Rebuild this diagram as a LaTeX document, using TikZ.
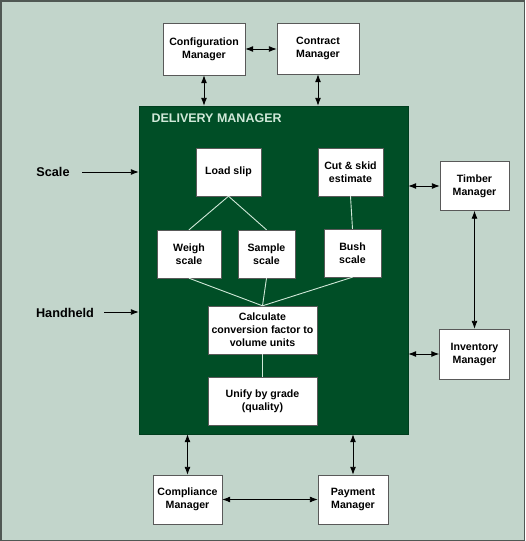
\documentclass[tikz,border=0pt]{standalone}
\usepackage{fontspec}
\setmainfont{Liberation Sans}
\usetikzlibrary{arrows.meta}
\definecolor{bgcol}{RGB}{194,213,203}
\definecolor{dmgreen}{RGB}{0,78,38}
\definecolor{linecol}{RGB}{208,232,216}
\definecolor{framecol}{RGB}{80,88,84}
\tikzset{
  box/.style={draw=gray!70!black, fill=white, align=center, inner sep=1pt,
    font=\fontsize{10.6}{13}\selectfont\bfseries},
  lbl/.style={font=\fontsize{12.7}{15}\selectfont\bfseries},
  link/.style={linecol, line width=0.9pt},
  dbl/.style={{Latex[length=8pt,width=6pt]}-{Latex[length=8pt,width=6pt]}, line width=0.9pt},
  sgl/.style={-{Latex[length=8pt,width=6pt]}, line width=0.9pt}
}
\begin{document}
\begin{tikzpicture}[x=1pt,y=-1pt]
    \useasboundingbox (0,0) rectangle (525,541);
    \fill [bgcol] (0,0) rectangle (525,541);
    \draw [framecol, line width=1.5pt] (0.75,0.75) rectangle (524.25,540.25);

    % delivery manager
    \node [fill=dmgreen, draw=dmgreen!80!black, minimum width=269pt, minimum height=328pt, inner sep=0pt] (dm) at (273.5,270) {};
    \node [anchor=west, text=linecol, font=\fontsize{12.5}{15}\selectfont\bfseries] (title) at (148,118.5) {DELIVERY MANAGER};

    % outside managers
    \node [box, minimum width=82pt, minimum height=52pt] (cfg) at (204,49) {Configuration\\Manager};
    \node [box, minimum width=82pt, minimum height=51pt] (ctr) at (318,48.5) {Contract\\Manager};
    \node [box, minimum width=69pt, minimum height=49pt] (timber) at (474.5,186) {Timber\\Manager};
    \node [box, minimum width=70pt, minimum height=50pt] (inv) at (474.5,354) {Inventory\\Manager};
    \node [box, minimum width=69pt, minimum height=49pt] (comp) at (187.5,499.5) {Compliance\\Manager};
    \node [box, minimum width=70pt, minimum height=49pt] (pay) at (353,499.5) {Payment\\Manager};

    % inner steps
    \node [box, minimum width=65pt, minimum height=48pt] (load) at (228.5,172) {Load slip};
    \node [box, minimum width=65pt, minimum height=48pt] (cut) at (350.5,172) {Cut \& skid\\estimate};
    \node [box, minimum width=64pt, minimum height=48pt] (weigh) at (189,254) {Weigh\\scale};
    \node [box, minimum width=57pt, minimum height=48pt] (sample) at (266.5,254) {Sample\\scale};
    \node [box, minimum width=57pt, minimum height=48pt] (bush) at (352.5,253) {Bush\\scale};
    \node [box, minimum width=109pt, minimum height=48pt] (calc) at (262.5,330) {Calculate\\conversion factor to\\volume units};
    \node [box, minimum width=109pt, minimum height=48pt] (unify) at (262.5,401) {Unify by grade\\(quality)};

    % inputs
    \node [lbl] (scale) at (53,171.5) {Scale};
    \node [lbl] (hand) at (65,313) {Handheld};
    \coordinate (scalein) at (82,172);
    \coordinate (handin) at (104,312);

    % inner links
    \draw [link] (load.south) -- (weigh.north);
    \draw [link] (load.south) -- (sample.north);
    \draw [link] (cut.south) -- (bush.north);
    \draw [link] (weigh.south) -- (calc.north);
    \draw [link] (sample.south) -- (calc.north);
    \draw [link] (bush.south) -- (calc.north);
    \draw [link] (calc.south) -- (unify.north);

    % arrows
    \draw [dbl] (cfg.east) -- (ctr.west |- cfg.east);
    \draw [dbl] (cfg.south) -- (cfg.south |- dm.north);
    \draw [dbl] (ctr.south) -- (ctr.south |- dm.north);
    \draw [dbl] (dm.east |- timber.west) -- (timber.west);
    \draw [dbl] (dm.east |- inv.west) -- (inv.west);
    \draw [dbl] (timber.south) -- (inv.north);
    \draw [dbl] (comp.north) -- (comp.north |- dm.south);
    \draw [dbl] (pay.north) -- (pay.north |- dm.south);
    \draw [dbl] (comp.east) -- (pay.west);
    \draw [sgl] (scalein) -- (dm.west |- scalein);
    \draw [sgl] (handin) -- (dm.west |- handin);
\end{tikzpicture}
\end{document}
